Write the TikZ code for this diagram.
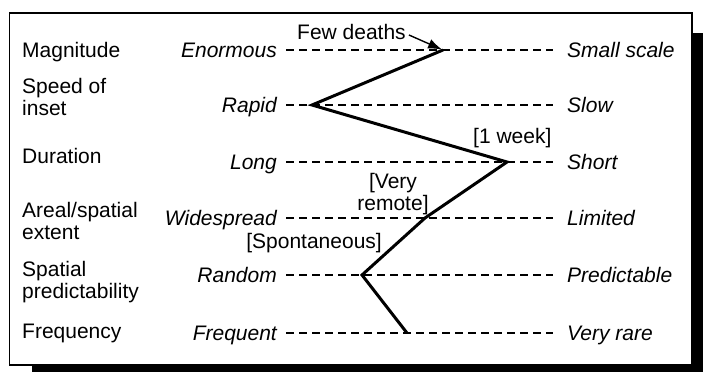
\documentclass[tikz,border=0pt]{standalone}
\usepackage{fontspec}
\setmainfont{Liberation Sans}
\usetikzlibrary{arrows.meta}
\begin{document}
\begin{tikzpicture}
[x=1pt,y=-1pt,
  factordecorate/.style={anchor=base west,align=left,inner sep=0pt,
    font=\fontsize{21}{21.5}\selectfont},
  enddecorate/.style={inner sep=0pt,font=\fontsize{21}{21.5}\selectfont\itshape},
  notedecorate/.style={inner sep=0pt,font=\fontsize{21}{21.5}\selectfont},
  rowdecorate/.style={dash pattern=on 8pt off 5pt,line width=2.6pt},
  profiledecorate/.style={-,line width=3pt,line join=miter},
  framedecorate/.style={draw,fill=white,line width=1.5pt}]
\useasboundingbox (0,0) rectangle (703,372);
%% frame and its shadow
\fill (32,33) rectangle (703,372);
\filldraw[framedecorate] (9.5,13) rectangle (692,365);
%% factors (anchored at the baseline of their last line)
\foreach \nodename/\y/\txt in {mag/57/{Magnitude}, spd/115/{Speed of\\inset},
  dur/163/{Duration}, ext/239/{Areal/spatial\\extent},
  prd/298/{Spatial\\predictability}, frq/338/{Frequency}} {
  \node (\nodename) at (22,\y) [factordecorate] {\txt};
}
%% scales
\foreach \rowname/\y/\low/\high in {mag/50/{Enormous}/{Small scale},
  spd/105/{Rapid}/{Slow}, dur/162/{Long}/{Short},
  ext/218/{Widespread}/{Limited}, prd/275/{Random}/{Predictable},
  frq/333/{Frequent}/{Very rare}} {
  \coordinate (\rowname-a) at (286,\y);
  \coordinate (\rowname-b) at (553,\y);
  \node (\rowname-low) at (277,\y+7) [enddecorate,anchor=base east] {\low};
  \node (\rowname-high) at (567,\y+7) [enddecorate,anchor=base west] {\high};
  \draw[rowdecorate] (\rowname-a) -- (\rowname-b);
}
%% profile
\foreach \pointname/\x/\y in {p1/443/50, p2/312/105, p3/507/162,
  p4/425/218, p5/362/275, p6/407/333} {
  \coordinate (\pointname) at (\x,\y);
}
\draw[profiledecorate] (p1) -- (p2) -- (p3) -- (p4) -- (p5) -- (p6);
%% notes
\node (few) at (297,39) [notedecorate,anchor=base west] {Few deaths};
\node (week) at (473,143) [notedecorate,anchor=base west] {[1 week]};
\node (remote) at (393,210) [notedecorate,anchor=base,align=center] {[Very\\remote]};
\node (spont) at (382,248) [notedecorate,anchor=base east] {[Spontaneous]};
\draw[-{Latex[length=14pt,width=10pt]},line width=1.4pt,shorten >=1pt]
  ([shift={(3pt,4pt)}]few.base east) -- (p1);
\end{tikzpicture}
\end{document}
